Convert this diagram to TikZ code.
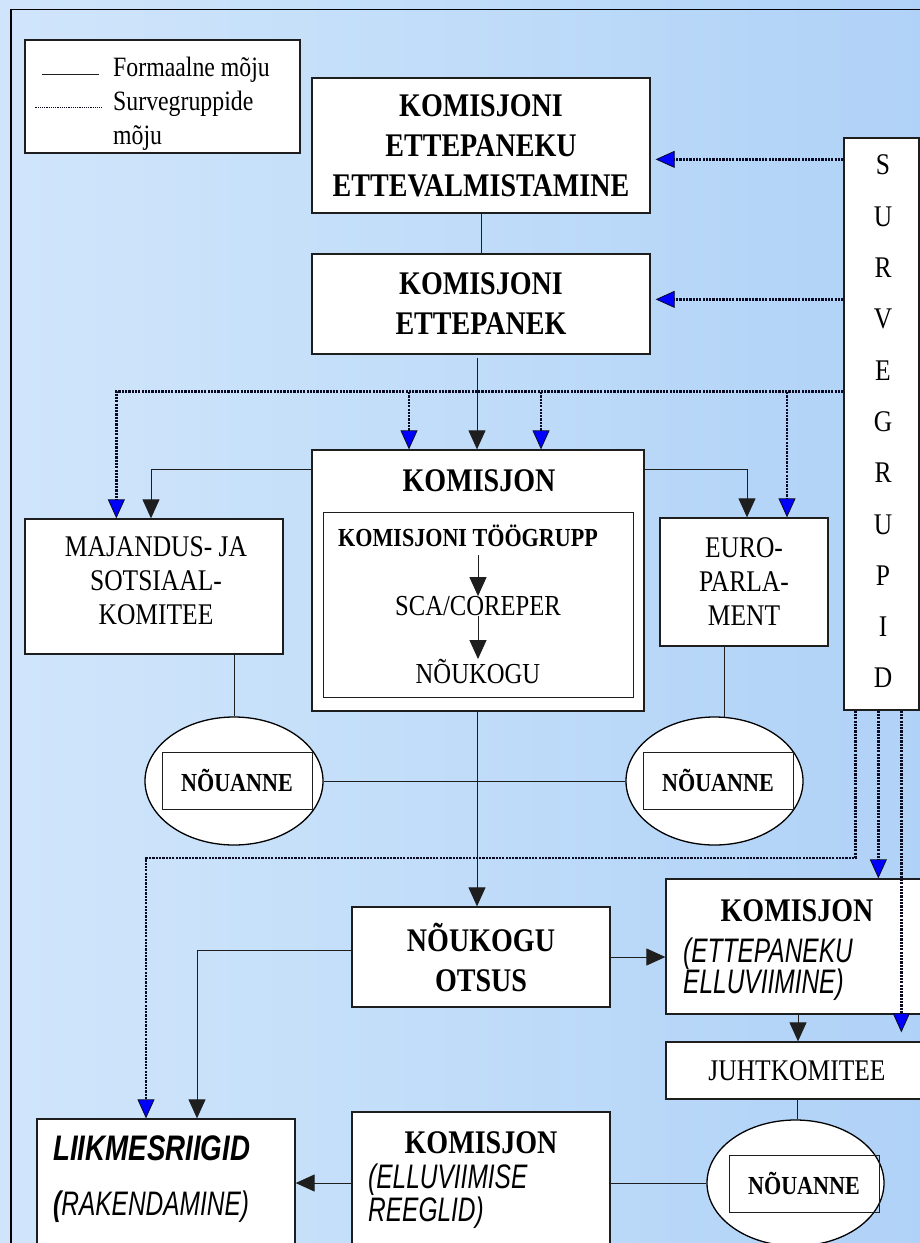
\documentclass[tikz,border=0pt]{standalone}
\usepackage{fontspec}
\setmainfont{Liberation Serif}[FakeStretch=0.85]
\newfontfamily\itsans{Liberation Sans}[FakeStretch=0.72]
\newfontfamily\itsansb{Liberation Sans}[FakeStretch=0.78]
\usetikzlibrary{arrows.meta,shapes.geometric,calc}
\definecolor{dotc}{RGB}{10,10,35}
\definecolor{tipblue}{RGB}{0,0,255}
\definecolor{linec}{RGB}{30,30,30}
\pgfdeclarehorizontalshading{bgshade}{100bp}{rgb(0bp)=(0.88,0.93,0.99); rgb(40bp)=(0.78,0.88,0.98); rgb(70bp)=(0.70,0.83,0.97); rgb(100bp)=(0.66,0.80,0.97)}
\newcommand\fTtl{\fontsize{33}{40}\selectfont\bfseries}
\newcommand\fReg{\fontsize{30}{34}\selectfont}
\newcommand\fSm{\fontsize{29}{34}\selectfont}
\newcommand\fLeg{\fontsize{28}{34}\selectfont}
\newcommand\fNou{\fontsize{26}{30}\selectfont\bfseries}
\newcommand\fIt{\itsans\fontsize{34}{30}\selectfont\itshape}
\tikzset{
  box/.style={draw=linec, line width=1.3pt, fill=white, inner sep=0pt, align=center},
  ellbox/.style={ellipse, draw=black, line width=1.3pt, fill=white, inner sep=0pt},
  inbox/.style={draw=linec, line width=1pt, inner sep=0pt, align=center},
  ttl/.style={font=\fTtl, inner sep=0pt, align=center},
  reg/.style={font=\fReg, inner sep=0pt, align=center},
  plain/.style={draw=linec, line width=1pt},
  arr/.style={plain, -{Triangle[length=19pt,width=17pt]}},
  dotl/.style={draw=dotc, line width=2.5pt, dash pattern=on 2.2pt off 1.1pt},
  darr/.style={dotl, -{Triangle[length=19pt,width=17pt,fill=tipblue,line width=0.8pt]}},
}
\begin{document}
\begin{tikzpicture}[x=1pt,y=-1pt]
\useasboundingbox (0,0) rectangle (920,1243);
\clip (0,0) rectangle (920,1243);
\shade[shading=bgshade] (0,0) rectangle (920,1243);
\draw[line width=1.6pt] (11,9.5) rectangle (940,1270);

% legend
\node[box, minimum width=275pt, minimum height=113pt] (leg) at (162.5,96.5) {};
\draw[plain] ($(leg.north west)+(18,35)$) -- ++(57,0);
\draw[draw=dotc, line width=1.5pt, dash pattern=on 1.3pt off 0.9pt] ($(leg.north west)+(11,68)$) -- ++(67,0);
\node[font=\fLeg, anchor=base west, inner sep=0pt] (lg1) at (113,76) {Formaalne mõju};
\node[font=\fLeg, anchor=base west, inner sep=0pt] (lg2) at (113,110) {Survegruppide};
\node[font=\fLeg, anchor=base west, inner sep=0pt] (lg3) at (113,144) {mõju};

% top boxes
\node[box, font=\fTtl, minimum width=338pt, minimum height=135pt] (k1) at (481,145.5) {KOMISJONI\\ETTEPANEKU\\ETTEVALMISTAMINE};
\node[box, font=\fTtl, minimum width=338pt, minimum height=100pt] (k2) at (481,304) {KOMISJONI\\ETTEPANEK};

% survegrupid
\node[box, minimum width=75pt, minimum height=572pt] (surv) at (881.5,424) {};
\node[font=\fontsize{30}{51.3}\selectfont, align=center, inner sep=0pt] (survt) at (883,421.5) {S\\U\\R\\V\\E\\G\\R\\U\\P\\I\\D};

% komisjon
\node[box, minimum width=332pt, minimum height=261pt] (kom) at (478,580.5) {};
\node[ttl, anchor=base] (komt) at (479,491.5) {KOMISJON};
\node[inbox, minimum width=310pt, minimum height=185pt] (komin) at (478,604.5) {};
\node[font=\fNou, inner sep=0pt, anchor=base] (tg) at (468,546.8) {KOMISJONI TÖÖGRUPP};
\node[font=\fSm, inner sep=0pt, anchor=base] (sca) at (478,615.5) {SCA/COREPER};
\node[font=\fSm, inner sep=0pt, anchor=base] (nou) at (478,683.5) {NÕUKOGU};

% side boxes
\node[box, minimum width=258pt, minimum height=135pt] (maj) at (154,586.5) {};
\node[reg] (majt) at (156,581) {MAJANDUS- JA\\SOTSIAAL-\\KOMITEE};
\node[box, font=\fReg, minimum width=168pt, minimum height=128pt] (euro) at (744,582) {EURO-\\PARLA-\\MENT};

% ellipses
\node[ellbox, minimum width=178pt, minimum height=128pt] (ell1) at (234,781) {};
\node[inbox, font=\fNou, minimum width=150pt, minimum height=57pt] (ell1in) at (237,780.5) {NÕUANNE};
\node[ellbox, minimum width=177pt, minimum height=128pt] (ell2) at (714.5,781) {};
\node[inbox, font=\fNou, minimum width=150pt, minimum height=57pt] (ell2in) at (718,780.5) {NÕUANNE};

% lower boxes
\node[box, font=\fTtl, minimum width=258pt, minimum height=100pt] (nko) at (481,957) {NÕUKOGU\\OTSUS};
\node[box, minimum width=262pt, minimum height=135pt] (kett) at (797,946.5) {};
\node[ttl, anchor=base] (kettt) at (797,921) {KOMISJON};
\node[font=\fIt, inner sep=0pt, anchor=base west] (kett1) at (683,962) {(ETTEPANEKU};
\node[font=\fIt, inner sep=0pt, anchor=base west] (kett2) at (683,993) {ELLUVIIMINE)};
\node[box, font=\fReg, minimum width=262pt, minimum height=57pt] (juht) at (797,1070.5) {JUHTKOMITEE};
\node[ellbox, minimum width=177pt, minimum height=126pt] (ell3) at (795.5,1183) {};
\node[inbox, font=\fNou, minimum width=150pt, minimum height=57pt] (ell3in) at (804,1183.5) {NÕUANNE};

\node[box, minimum width=258pt, minimum height=148pt] (kel) at (481,1186) {};
\node[ttl, anchor=base] (kelt) at (481,1153) {KOMISJON};
\node[font=\fIt, inner sep=0pt, anchor=base west] (kel1) at (368,1188) {(ELLUVIIMISE};
\node[font=\fIt, inner sep=0pt, anchor=base west] (kel2) at (368,1221) {REEGLID)};

\node[box, minimum width=258pt, minimum height=141pt] (liik) at (166,1189.5) {};
\node[font=\itsansb\fontsize{35.5}{40}\selectfont\bfseries\itshape, inner sep=0pt, anchor=base west] (liik1) at (53,1160) {LIIKMESRIIGID};
\node[font=\fIt, inner sep=0pt, anchor=base west] (liik2) at (53,1215) {{\bfseries(}RAKENDAMINE)};

% connectors: formal
\draw[plain] (k1.south) -- (k2.north);
\draw[arr] ($(k2.south)+(-4,3)$) -- ($(kom.north)+(-1,0)$);
\draw[arr, shorten <=8pt] (tg.south -| sca.north) -- (sca.north);
\draw[arr] (sca.south) -- (nou.north);
\draw[arr] ($(kom.north west)+(0,20)$) -| ($(maj.north)+(-3,0)$);
\draw[arr] ($(kom.north east)+(0,20)$) -| ($(euro.north)+(3,0)$);
\draw[plain] (ell1.north |- maj.south) -- (ell1.north);
\draw[plain] ($(euro.south)+(-20,0)$) -- ($(ell2.north)+(9.5,0.4)$);
\draw[plain] (ell1.east) -- (ell2.west);
\draw[arr] ($(kom.south)+(-1,0)$) -- ($(kom.south |- nko.north)+(-1,0)$);
\draw[arr] (nko.east) -- (nko.east -| kett.west);
\draw[arr] ($(nko.west)+(0,-7)$) -| ($(liik.north)+(31,0)$);
\draw[arr] ($(kett.south)+(1,0)$) -- ($(juht.north)+(1,0)$);
\draw[plain] (juht.south) -- (juht.south |- ell3.north);
\draw[plain] (ell3.west -| kel.east) -- (ell3.west);
\draw[arr] (ell3.west -| kel.west) -- (ell3.west -| liik.east);

% connectors: pressure groups
\coordinate (s1) at ($(surv.north west)+(0,22)$);
\coordinate (s2) at ($(surv.north west)+(0,162)$);
\draw[darr, shorten >=5pt] (s1) -- (s1 -| k1.east);
\draw[darr, shorten >=5pt] (s2) -- (s2 -| k2.east);
\coordinate (bus) at ($(surv.north west)+(0,254)$);
\draw[darr] (bus) -| ($(maj.north west)+(92,0)$);
\coordinate (b1) at (409,392);
\coordinate (b2) at (541,392);
\coordinate (b3) at (787,392);
\draw[darr] (b1) -- (b1 |- kom.north);
\draw[darr] (b2) -- (b2 |- kom.north);
\draw[darr] (b3) -- (b3 |- euro.north);
\coordinate (d1) at ($(surv.south west)+(12,0)$);
\coordinate (d1b) at (146,858);
\draw[darr] (d1) |- (d1b) -- (d1b |- liik.north);
\coordinate (d2) at ($(surv.south west)+(35,0)$);
\draw[darr] (d2) -- (d2 |- kett.north);
\coordinate (d3) at ($(surv.south west)+(58,0)$);
\draw[darr, shorten >=9pt] (d3) -- (d3 |- juht.north);
\end{tikzpicture}
\end{document}
